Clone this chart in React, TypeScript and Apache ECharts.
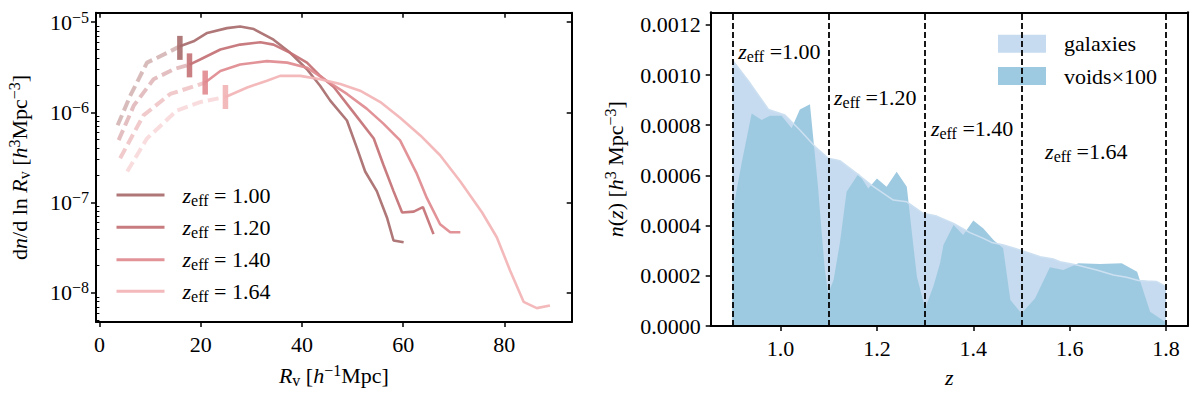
import React, { useEffect, useRef } from 'react';
import * as echarts from 'echarts';

const FONT = "'Liberation Serif', 'DejaVu Serif', serif";

// ---------------- left panel data ----------------
const zEff = ['1.00', '1.20', '1.40', '1.64'];

const rDash100 = [3.6, 6.1, 9.4, 13.4, 15.9];
const nDash100 = [7.19e-7, 1.53e-6, 3.56e-6, 4.57e-6, 5.41e-6];
const rSolid100 = [15.9, 18.6, 21.3, 25.2, 27.8, 30.5, 34.4, 37.7, 41, 43.6, 45.6, 48.9, 50.9, 52.5, 54.8, 56.8, 58.1, 60.1];
const nSolid100 = [5.41e-6, 6.14e-6, 7.59e-6, 8.59e-6, 8.95e-6, 8.38e-6, 6.4e-6, 4.57e-6, 3.01e-6, 1.97e-6, 1.35e-6, 8.13e-7, 3.99e-7, 2.21e-7, 1.34e-7, 6.84e-8, 3.8e-8, 3.63e-8];

const rDash120 = [3.8, 6.8, 10.7, 14.7, 17.8];
const nDash120 = [4.92e-7, 1.19e-6, 2.33e-6, 3.01e-6, 3.39e-6];
const rSolid120 = [17.8, 19.9, 23.9, 27.8, 31.8, 34.4, 37.7, 41, 43.6, 46.3, 50.2, 54.2, 56.1, 58.1, 59.8, 62.1, 63.9, 66];
const nSolid120 = [3.39e-6, 3.86e-6, 4.98e-6, 5.64e-6, 5.98e-6, 5.64e-6, 4.57e-6, 3.56e-6, 2.54e-6, 1.91e-6, 1.0e-6, 5.13e-7, 2.63e-7, 1.34e-7, 7.76e-8, 7.94e-8, 8.91e-8, 4.47e-8];

const rDash140 = [4.1, 8.7, 14, 18.6, 20.9];
const nDash140 = [3.1e-7, 9.25e-7, 1.6e-6, 1.94e-6, 2.14e-6];
const rSolid140 = [20.9, 23.9, 27.8, 33.1, 37.1, 41, 44.9, 48.9, 52.8, 56.1, 59.4, 62.7, 64.7, 67.3, 69.3, 71.3];
const nSolid140 = [2.14e-6, 2.88e-6, 3.4e-6, 3.7e-6, 3.56e-6, 3.13e-6, 2.24e-6, 1.6e-6, 1.1e-6, 7.5e-7, 4.9e-7, 2.09e-7, 1.12e-7, 5.75e-8, 4.68e-8, 4.68e-8];

const rDash164 = [5.5, 9.4, 15.3, 19.9, 24.9];
const nDash164 = [2.21e-7, 5.13e-7, 1.05e-6, 1.3e-6, 1.48e-6];
const rSolid164 = [24.9, 29.2, 33.1, 35.7, 39.7, 43.6, 47.6, 51.5, 55.5, 59.4, 63.4, 67.3, 71.3, 75.6, 78.5, 81.1, 83.8, 86.4, 89];
const nSolid164 = [1.48e-6, 1.89e-6, 2.24e-6, 2.54e-6, 2.54e-6, 2.33e-6, 2.06e-6, 1.74e-6, 1.3e-6, 8.71e-7, 5.55e-7, 3.35e-7, 1.71e-7, 7.76e-8, 4.13e-8, 1.78e-8, 7.94e-9, 6.76e-9, 7.24e-9];

const markerR = [15.9, 17.8, 20.9, 24.9];
const markerN = [5.19e-6, 3.32e-6, 2.14e-6, 1.48e-6];

const leftXTicks = [0, 20, 40, 60, 80];
const leftYDecades = [-8, -7, -6, -5];

// ---------------- right panel data ----------------
const zGal = [0.9, 0.937, 0.975, 1.009, 1.04, 1.072, 1.099, 1.123, 1.158, 1.193, 1.234, 1.262, 1.296, 1.324, 1.359, 1.393, 1.421, 1.438, 1.463, 1.497, 1.539, 1.566, 1.58, 1.615, 1.656, 1.691, 1.718, 1.743, 1.76, 1.781, 1.8];
const nGal = [0.00106, 0.000967, 0.000863, 0.000841, 0.000781, 0.000714, 0.000668, 0.000659, 0.000608, 0.000555, 0.000502, 0.000495, 0.000449, 0.000438, 0.000409, 0.000372, 0.000349, 0.000333, 0.000323, 0.000303, 0.000276, 0.000267, 0.000256, 0.000243, 0.000223, 0.000203, 0.000194, 0.000181, 0.000179, 0.000177, 0.000157];

const zVoid = [0.9, 0.919, 0.94, 0.961, 0.978, 1.002, 1.023, 1.04, 1.061, 1.078, 1.085, 1.092, 1.099, 1.11, 1.123, 1.137, 1.162, 1.182, 1.2, 1.22, 1.241, 1.262, 1.272, 1.283, 1.3, 1.317, 1.331, 1.338, 1.359, 1.379, 1.4, 1.421, 1.442, 1.462, 1.477, 1.5, 1.528, 1.559, 1.587, 1.618, 1.663, 1.708, 1.74, 1.767, 1.798];
const nVoid = [0.00045, 0.000648, 0.000847, 0.000821, 0.000838, 0.000838, 0.000788, 0.000863, 0.000884, 0.00055, 0.00038, 0.000223, 0.00013, 0.000183, 0.00033, 0.000535, 0.000608, 0.000548, 0.000588, 0.000555, 0.000615, 0.000555, 0.000382, 0.000196, 0.00007, 0.000157, 0.00025, 0.000323, 0.000402, 0.000363, 0.00042, 0.000389, 0.000343, 0.00031, 0.000104, 0.00005, 0.00011, 0.000234, 0.000223, 0.00025, 0.000247, 0.00025, 0.000216, 0.000057, 0.000017];

const binEdges = [0.9, 1.1, 1.3, 1.5, 1.8];
const annZ = [0.912, 1.111, 1.312, 1.549];
const annN = [0.001082, 0.0009, 0.000777, 0.000683];

const rightXTicks = [1.0, 1.2, 1.4, 1.6, 1.8];
const rightYTicks = [0, 0.0002, 0.0004, 0.0006, 0.0008, 0.001, 0.0012];
const rightLegendNames = ['galaxies', 'voids×100'];

// ---------------- layout / style ----------------
const L_XMIN = -0.67, L_XMAX = 93.3;
const L_YMIN = -8.325, L_YMAX = -4.895;
const R_XMIN = 0.855, R_XMAX = 1.845;
const R_YMIN = 0, R_YMAX = 0.00125;

const curveColors = ['#a86b6b', '#c47175', '#e08a8f', '#f2b3b5'];
const FS = 22;
const FS_SMALL = 16;

const base = { fontFamily: FONT, color: '#000' };
const rich: any = {
  r: { ...base, fontSize: FS, lineHeight: 30 },
  i: { ...base, fontSize: FS, lineHeight: 30, fontStyle: 'italic' },
  p: { ...base, fontSize: FS_SMALL, lineHeight: FS_SMALL, verticalAlign: 'top', padding: [2, 0, 0, 0] },
  s: { ...base, fontSize: FS_SMALL, lineHeight: FS_SMALL, verticalAlign: 'bottom', padding: [0, 0, 2, 0] },
  g: { ...base, fontSize: FS, lineHeight: 30, width: 13 },
};

const axisLineStyle = { show: true, onZero: false, lineStyle: { color: '#000', width: 2 } };
const tickLine = { color: '#000', width: 1.5 };

function legendName(z: string) {
  return 'z_eff = ' + z;
}

export default function App() {
  const ref = useRef<HTMLDivElement>(null);

  useEffect(() => {
    if (!ref.current) return;
    const chart = echarts.init(ref.current, undefined, { renderer: 'svg' });

    const log10 = (v: number) => Math.log10(v);
    const curves = [
      { rD: rDash100, nD: nDash100, rS: rSolid100, nS: nSolid100 },
      { rD: rDash120, nD: nDash120, rS: rSolid120, nS: nSolid120 },
      { rD: rDash140, nD: nDash140, rS: rSolid140, nS: nSolid140 },
      { rD: rDash164, nD: nDash164, rS: rSolid164, nS: nSolid164 },
    ];

    const minorTicks: number[] = [];
    for (let n = -9; n <= -5; n++) {
      for (let k = 2; k <= 9; k++) {
        const v = Math.log10(k) + n;
        if (v > L_YMIN && v < L_YMAX) minorTicks.push(v);
      }
    }

    const series: any[] = [];
    curves.forEach((c, i) => {
      const color = curveColors[i];
      series.push({
        type: 'line', name: 'dashed ' + zEff[i], xAxisIndex: 0, yAxisIndex: 0,
        data: c.rD.map((r, j) => [r, log10(c.nD[j])]),
        symbol: 'none', silent: true, z: 3,
        lineStyle: { color, width: 4, type: [11, 5], opacity: 0.45 },
        itemStyle: { color },
      });
    });
    curves.forEach((c, i) => {
      const color = curveColors[i];
      series.push({
        type: 'line', name: legendName(zEff[i]), xAxisIndex: 0, yAxisIndex: 0,
        data: c.rS.map((r, j) => [r, log10(c.nS[j])]),
        symbol: 'none', silent: true, z: 4,
        lineStyle: { color, width: 2.6, opacity: 0.92 },
        itemStyle: { color },
      });
    });
    markerR.forEach((r, i) => {
      series.push({
        type: 'scatter', name: 'marker ' + zEff[i], xAxisIndex: 0, yAxisIndex: 0,
        data: [[r, log10(markerN[i])]],
        symbol: 'rect', symbolSize: [5.5, 24], silent: true, z: 5,
        itemStyle: { color: curveColors[i], opacity: 0.9 },
      });
    });

    // right panel
    series.push({
      type: 'line', name: rightLegendNames[0], xAxisIndex: 2, yAxisIndex: 3,
      data: zGal.map((z, j) => [z, nGal[j]]),
      symbol: 'none', silent: true, z: 2,
      lineStyle: { width: 0, color: '#c6dbef' },
      itemStyle: { color: '#c6dbef' },
      areaStyle: { color: '#c6dbef', opacity: 1 },
    });
    series.push({
      type: 'line', name: rightLegendNames[1], xAxisIndex: 2, yAxisIndex: 3,
      data: zVoid.map((z, j) => [z, nVoid[j]]),
      symbol: 'none', silent: true, z: 3,
      lineStyle: { width: 0, color: '#9ecae1' },
      itemStyle: { color: '#9ecae1' },
      areaStyle: { color: '#9ecae1', opacity: 1 },
    });
    series.push({
      type: 'line', name: 'galaxies edge', xAxisIndex: 2, yAxisIndex: 3,
      data: zGal.map((z, j) => [z, nGal[j]]),
      symbol: 'none', silent: true, z: 4,
      lineStyle: { width: 1.5, color: '#cde0f1' },
      itemStyle: { color: '#cde0f1' },
      markLine: {
        silent: true, symbol: 'none', animation: false,
        label: { show: false },
        lineStyle: { color: '#000', width: 1.8, type: [6, 3] },
        data: binEdges.map((b) => ({ xAxis: b })),
      },
    });
    series.push({
      type: 'scatter', name: 'annotations', xAxisIndex: 2, yAxisIndex: 3,
      data: annZ.map((z, j) => [z, annN[j]]),
      symbol: 'circle', symbolSize: 0.01, silent: true, z: 7,
      itemStyle: { color: '#000', opacity: 1 },
      label: {
        show: true, position: 'right', distance: 0, offset: [0, -3], color: '#000', opacity: 1,
        formatter: (p: any) => `{i|z}{s|eff}{r| =${zEff[p.dataIndex]}}`,
        rich,
      },
    });

    const leftLegendTops = [184, 216.3, 248.7, 280.3];
    const rightLegendTops = [32.7, 65];

    const legends: any[] = [];
    zEff.forEach((z, i) => {
      legends.push({
        left: 115, top: leftLegendTops[i], orient: 'vertical', selectedMode: false,
        itemWidth: 48, itemHeight: 14, padding: 0,
        data: [legendName(z)],
        lineStyle: { width: 3 },
        itemStyle: { opacity: 0 },
        formatter: (name: string) => `{g| }{i|z}{s|eff}{r| = ${name.split('= ')[1]}}`,
        textStyle: { rich },
      });
    });
    rightLegendNames.forEach((nm, i) => {
      legends.push({
        left: 998, top: rightLegendTops[i], orient: 'vertical', selectedMode: false, icon: 'rect',
        itemWidth: 48, itemHeight: 18, padding: 0,
        data: [nm],
        formatter: (name: string) => `{g| }{r|${name}}`,
        textStyle: { rich },
      });
    });

    const option: any = {
      animation: false,
      backgroundColor: '#fff',
      grid: [
        { left: 96, top: 12.7, width: 475.7, height: 313, containLabel: false },
        { left: 710.7, top: 12.3, width: 477, height: 313.7, containLabel: false },
      ],
      xAxis: [
        {
          gridIndex: 0, type: 'value', min: L_XMIN, max: L_XMAX, position: 'bottom', z: 10,
          axisLine: axisLineStyle,
          axisTick: { show: true, customValues: leftXTicks, length: 5, lineStyle: tickLine },
          axisLabel: { show: true, customValues: leftXTicks, margin: 11, fontFamily: FONT, fontSize: FS, color: '#000', formatter: (v: number) => String(Math.round(v)) },
          splitLine: { show: false },
          name: '{i|R}{s|v}{r| [}{i|h}{p|−1}{r|Mpc]}',
          nameLocation: 'middle', nameGap: 36, nameTextStyle: { rich },
        },
        {
          gridIndex: 0, type: 'value', min: L_XMIN, max: L_XMAX, position: 'top', z: 10,
          axisLine: axisLineStyle,
          axisTick: { show: true, inside: true, customValues: leftXTicks, length: 5, lineStyle: tickLine },
          axisLabel: { show: false },
          splitLine: { show: false },
        },
        {
          gridIndex: 1, type: 'value', min: R_XMIN, max: R_XMAX, position: 'bottom', z: 10,
          axisLine: axisLineStyle,
          axisTick: { show: true, customValues: rightXTicks, length: 5, lineStyle: tickLine },
          axisLabel: { show: true, customValues: rightXTicks, margin: 11, fontFamily: FONT, fontSize: FS, color: '#000', formatter: (v: number) => v.toFixed(1) },
          splitLine: { show: false },
          name: '{i|z}', nameLocation: 'middle', nameGap: 36, nameTextStyle: { rich },
        },
        {
          gridIndex: 1, type: 'value', min: R_XMIN, max: R_XMAX, position: 'top', z: 10,
          axisLine: axisLineStyle,
          axisTick: { show: false }, axisLabel: { show: false }, splitLine: { show: false },
        },
      ],
      yAxis: [
        {
          gridIndex: 0, type: 'value', min: L_YMIN, max: L_YMAX, position: 'left', z: 10,
          axisLine: axisLineStyle,
          axisTick: { show: true, customValues: leftYDecades, length: 5, lineStyle: tickLine },
          axisLabel: {
            show: true, customValues: leftYDecades, margin: 7,
            formatter: (v: number) => `{r|10}{p|−${Math.abs(Math.round(v))}}`, rich,
          },
          splitLine: { show: false },
          name: '{r|d}{i|n}{r|/d ln }{i|R}{s|v}{r| [}{i|h}{p|3}{r|Mpc}{p|−3}{r|]}',
          nameLocation: 'middle', nameGap: 62, nameTextStyle: { rich },
        },
        {
          gridIndex: 0, type: 'value', min: L_YMIN, max: L_YMAX, position: 'left', z: 10,
          axisLine: { show: false },
          axisTick: { show: true, customValues: minorTicks, length: 3, lineStyle: { color: '#000', width: 1 } },
          axisLabel: { show: false }, splitLine: { show: false },
        },
        {
          gridIndex: 0, type: 'value', min: L_YMIN, max: L_YMAX, position: 'right', z: 10,
          axisLine: axisLineStyle,
          axisTick: { show: true, inside: true, customValues: leftYDecades, length: 5, lineStyle: tickLine },
          axisLabel: { show: false }, splitLine: { show: false },
        },
        {
          gridIndex: 1, type: 'value', min: R_YMIN, max: R_YMAX, position: 'left', z: 10,
          axisLine: axisLineStyle,
          axisTick: { show: true, customValues: rightYTicks, length: 5, lineStyle: tickLine },
          axisLabel: {
            show: true, customValues: rightYTicks, margin: 10, fontFamily: FONT, fontSize: FS, color: '#000',
            formatter: (v: number) => v.toFixed(4),
          },
          splitLine: { show: false },
          name: '{i|n}{r|(}{i|z}{r|) [}{i|h}{p|3}{r| Mpc}{p|−3}{r|]}',
          nameLocation: 'middle', nameGap: 80, nameTextStyle: { rich },
        },
        {
          gridIndex: 1, type: 'value', min: R_YMIN, max: R_YMAX, position: 'right', z: 10,
          axisLine: axisLineStyle,
          axisTick: { show: false }, axisLabel: { show: false }, splitLine: { show: false },
        },
      ],
      legend: legends,
      series,
    };

    chart.setOption(option);
    return () => chart.dispose();
  }, []);

  return (
    <div
      ref={ref}
      style={{ position: 'absolute', left: 0, top: 0, width: 1200, height: 395, background: '#fff' }}
    />
  );
}
